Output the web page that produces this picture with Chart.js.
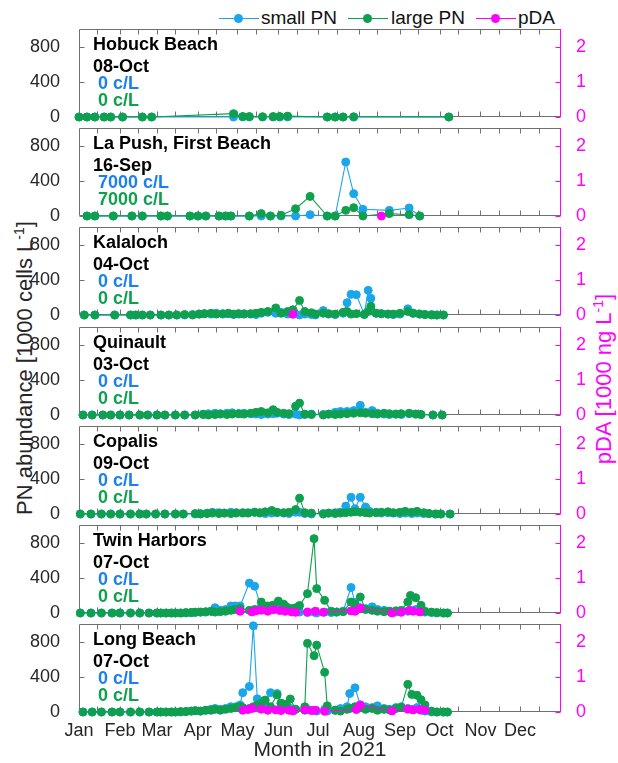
<!DOCTYPE html>
<html>
<head>
<meta charset="utf-8">
<title>PN abundance and pDA, 2021</title>
<script src="https://cdn.jsdelivr.net/npm/chart.js@4.4.1/dist/chart.umd.min.js"></script>
<style>
  html, body { margin: 0; padding: 0; background: #fff; }
  #fig { position: relative; width: 618px; height: 763px; overflow: hidden; font-family: "Liberation Sans", Arial, sans-serif; color: #262626; }
  #fig canvas { position: absolute; left: 0; }
  .note { position: absolute; left: 93px; font-size: 18px; line-height: 18px; font-weight: bold; white-space: pre; }
  .ytitle { position: absolute; font-size: 22px; line-height: 22px; white-space: nowrap; transform: translate(-50%, -50%) rotate(-90deg); }
  .ytitle sup { font-size: 14px; }
  .key { position: absolute; top: 8px; font-size: 19px; line-height: 20px; color: #111; }
  .key-line { position: absolute; top: 18px; width: 40px; height: 0; border-top: 1.3px solid; }
  .key-dot { position: absolute; top: 14px; width: 9px; height: 9px; border-radius: 50%; }
</style>
</head>
<body>
<div id="fig">
  <div class="key-line" style="left:219px;border-color:#1ba6ec"></div>
  <div class="key-dot" style="left:234px;background:#1ba6ec"></div>
  <div class="key" style="left:261px">small PN</div>
  <div class="key-line" style="left:348px;border-color:#0fa04f"></div>
  <div class="key-dot" style="left:363px;background:#0fa04f"></div>
  <div class="key" style="left:391px">large PN</div>
  <div class="key-line" style="left:476px;border-color:#ff00ff"></div>
  <div class="key-dot" style="left:491px;background:#ff00ff"></div>
  <div class="key" style="left:518px">pDA</div>
  <div class="ytitle" style="left:22px;top:368px">PN abundance [1000 cells L<sup>-1</sup>]</div>
  <div class="ytitle" style="left:601px;top:379px;color:#ff00ff">pDA [1000 ng L<sup>-1</sup>]</div>
</div>
<script>
// axis labels
const monthLabels = ['Jan', 'Feb', 'Mar', 'Apr', 'May', 'Jun', 'Jul', 'Aug', 'Sep', 'Oct', 'Nov', 'Dec'];
const monthStarts = [0, 31, 59, 90, 120, 151, 181, 212, 243, 273, 304, 334];
const pnTicks = [0, 400, 800];
const pdaTicks = [0, 1, 2];

// panel text
const siteNames = ['Hobuck Beach', 'La Push, First Beach', 'Kalaloch', 'Quinault', 'Copalis', 'Twin Harbors', 'Long Beach'];
const lastDates = ['08-Oct', '16-Sep', '04-Oct', '03-Oct', '09-Oct', '07-Oct', '07-Oct'];
const smallCounts = ['0 c/L', '7000 c/L', '0 c/L', '0 c/L', '0 c/L', '0 c/L', '0 c/L'];
const largeCounts = ['0 c/L', '7000 c/L', '0 c/L', '0 c/L', '0 c/L', '0 c/L', '0 c/L'];

// sample days are days since 1 Jan 2021; PN in 1000 cells/L, pDA in 1000 ng/L
const hobuckDays = [0, 6, 12, 19, 24, 33, 48, 55, 117, 124, 129, 139, 147, 152, 158, 188, 194, 200, 208, 280];
const hobuckSmall = [0, 0, 0, 0, 0, 0, 0, 0, 0, 2, 0, 0, 0, 0, 0, 0, 0, 0, 0, 0];
const hobuckLarge = [0, 0, 0, 0, 0, 0, 0, 0, 38, 5, 5, 3, 5, 5, 10, 0, 0, 0, 2, 0];
const hobuckPdaDays = [];
const hobuckPda = [];

const laPushDays = [6, 12, 26, 40, 48, 62, 67, 84, 90, 96, 106, 111, 115, 129, 138, 145, 153, 164, 175, 188, 194, 202, 208, 215, 235, 250, 258];
const laPushSmall = [0, 0, 0, 0, 0, 0, 0, 0, 0, 0, 0, 0, 0, 0, 0, 0, 0, 0, 15, 0, 0, 614, 254, 76, 64, 91, 0];
const laPushLarge = [0, 0, 0, 0, 0, 0, 0, 0, 0, 0, 0, 0, 0, 0, 27, 0, 8, 83, 223, 0, 0, 64, 95, 0, 27, 15, 0];
const laPushPdaDays = [229];
const laPushPda = [0];

const kalalochDays = [4, 12, 27, 39, 43, 48, 54, 62, 68, 74, 80, 86, 91, 95, 100, 104, 109, 113, 117, 121, 125, 130, 134, 138, 143, 149, 153, 158, 162, 167, 171, 176, 179, 185, 189, 194, 200, 203, 206, 210, 216, 219, 221, 225, 229, 234, 238, 243, 249, 253, 258, 262, 267, 271, 276];
const kalalochSmall = [0, 0, 0, 0, 0, 0, 0, 0, 0, 0, 0, 5, 10, 15, 10, 20, 10, 15, 5, 10, 15, 10, 5, 20, 30, 20, 30, 10, 15, 0, 10, 5, 0, 50, 10, 5, 20, 140, 235, 230, 10, 280, 190, 20, 15, 10, 5, 10, 70, 20, 10, 5, 5, 0, 0];
const kalalochLarge = [0, 0, 0, 0, 0, 0, 0, 0, 0, 0, 5, 0, 10, 15, 20, 10, 15, 20, 10, 15, 10, 15, 20, 30, 40, 80, 20, 40, 60, 165, 40, 25, 10, 20, 15, 10, 30, 40, 10, 15, 5, 40, 100, 20, 15, 10, 10, 20, 40, 20, 10, 5, 0, 0, 0];
const kalalochPdaDays = [162];
const kalalochPda = [0.02];

const quinaultDays = [3, 10, 18, 24, 31, 38, 46, 52, 59, 65, 73, 80, 88, 94, 98, 103, 107, 112, 116, 121, 125, 130, 134, 138, 143, 147, 150, 155, 159, 164, 167, 171, 176, 185, 189, 194, 198, 203, 208, 213, 217, 222, 226, 231, 235, 240, 244, 250, 255, 259, 268, 275];
const quinaultSmall = [0, 0, 0, 0, 0, 0, 0, 0, 0, 0, 0, 0, 0, 10, 15, 20, 15, 20, 25, 15, 20, 15, 10, 5, 10, 15, 20, 10, 5, 10, 0, 5, 10, 5, 10, 30, 40, 40, 50, 110, 30, 50, 20, 10, 5, 10, 5, 15, 10, 5, 0, 0];
const quinaultLarge = [0, 0, 0, 0, 0, 0, 0, 0, 0, 0, 0, 0, 0, 5, 0, 5, 10, 5, 10, 15, 10, 20, 30, 40, 25, 60, 30, 20, 15, 100, 135, 10, 5, 0, 10, 5, 10, 15, 20, 25, 20, 15, 10, 20, 15, 10, 15, 20, 10, 5, 0, 0];
const quinaultPdaDays = [];
const quinaultPda = [];

const copalisDays = [1, 9, 17, 24, 31, 39, 46, 51, 58, 65, 73, 79, 88, 92, 97, 101, 106, 110, 115, 119, 124, 128, 133, 137, 141, 146, 150, 155, 159, 164, 167, 171, 176, 185, 189, 194, 198, 202, 206, 209, 213, 217, 220, 225, 229, 234, 238, 243, 247, 252, 256, 261, 265, 270, 274, 281];
const copalisSmall = [0, 0, 0, 0, 0, 0, 0, 0, 0, 0, 0, 0, 0, 5, 10, 20, 15, 10, 20, 15, 10, 15, 20, 10, 5, 10, 15, 10, 5, 20, 20, 5, 0, 5, 10, 15, 20, 90, 190, 60, 190, 80, 30, 20, 10, 15, 10, 5, 10, 5, 10, 5, 5, 0, 0, 0];
const copalisLarge = [0, 0, 0, 0, 0, 0, 0, 0, 0, 0, 0, 0, 5, 0, 5, 10, 5, 10, 5, 10, 15, 10, 20, 15, 25, 40, 20, 15, 20, 50, 180, 15, 10, 0, 10, 5, 10, 15, 20, 25, 20, 15, 10, 15, 20, 25, 15, 20, 30, 20, 30, 15, 5, 0, 0, 0];
const copalisPdaDays = [];
const copalisPda = [];

const twinDays = [1, 9, 17, 25, 31, 39, 46, 53, 59, 62, 66, 70, 73, 77, 81, 85, 88, 92, 96, 100, 103, 107, 111, 115, 118, 122, 129, 133, 138, 143, 147, 151, 155, 157, 161, 164, 167, 173, 178, 180, 186, 191, 195, 200, 206, 209, 213, 217, 222, 226, 231, 235, 240, 244, 249, 251, 255, 259, 262, 267, 271, 276, 279];
const twinSmall = [0, 0, 0, 0, 0, 0, 0, 0, 0, 0, 0, 0, 0, 0, 0, 5, 5, 10, 10, 20, 60, 30, 40, 80, 80, 80, 340, 305, 60, 40, 50, 100, 60, 40, 30, 20, 10, 5, 10, 0, 10, 5, 10, 20, 290, 120, 60, 50, 70, 40, 30, 20, 10, 15, 20, 30, 40, 20, 10, 5, 0, 0, 0];
const twinLarge = [0, 0, 0, 0, 0, 0, 0, 0, 0, 0, 0, 0, 0, 0, 5, 5, 10, 10, 15, 20, 10, 15, 20, 30, 40, 50, 30, 40, 125, 80, 90, 136, 100, 70, 50, 60, 85, 220, 845, 277, 144, 20, 10, 15, 125, 98, 182, 40, 30, 20, 15, 20, 25, 30, 125, 200, 174, 87, 20, 10, 5, 0, 0];
const twinPdaDays = [122, 131, 134, 138, 143, 147, 152, 156, 161, 164, 173, 179, 185, 206, 209, 213, 237, 244, 250, 253, 258];
const twinPda = [0.05, 0.03, 0.06, 0.08, 0.05, 0.09, 0.07, 0.05, 0.03, 0.02, 0.03, 0.05, 0.02, 0.06, 0.05, 0.14, 0.0, 0.02, 0.07, 0.05, 0.03];

const longDays = [3, 10, 17, 25, 31, 39, 46, 53, 59, 62, 66, 70, 73, 77, 81, 85, 88, 92, 96, 100, 103, 107, 111, 115, 119, 122, 124, 129, 132, 135, 138, 141, 145, 150, 153, 157, 160, 164, 171, 173, 178, 180, 186, 188, 194, 198, 203, 205, 209, 213, 217, 222, 226, 231, 235, 240, 244, 249, 252, 256, 259, 262, 267, 271, 276, 279];
const longSmall = [0, 0, 0, 0, 0, 0, 0, 0, 0, 0, 0, 0, 0, 0, 5, 10, 15, 10, 20, 30, 40, 30, 40, 60, 60, 80, 220, 290, 980, 150, 120, 80, 220, 210, 100, 60, 40, 30, 20, 30, 20, 10, 30, 10, 20, 40, 60, 210, 275, 80, 60, 50, 70, 40, 30, 50, 60, 40, 30, 50, 20, 10, 0, 0, 0, 0];
const longLarge = [0, 0, 0, 0, 0, 0, 0, 0, 0, 0, 0, 0, 0, 5, 5, 10, 15, 10, 20, 20, 30, 20, 30, 40, 50, 60, 50, 40, 60, 80, 100, 136, 60, 193, 100, 90, 148, 30, 60, 780, 640, 760, 451, 70, 20, 10, 30, 40, 60, 50, 30, 40, 20, 30, 25, 40, 50, 314, 200, 190, 140, 80, 10, 0, 0, 0];
const longPdaDays = [124, 128, 131, 138, 143, 149, 153, 159, 162, 171, 176, 179, 186, 210, 213, 237, 249, 253, 258, 262];
const longPda = [0.05, 0.07, 0.1, 0.08, 0.05, 0.06, 0.04, 0.05, 0.03, 0.06, 0.04, 0.05, 0.02, 0.07, 0.2, 0.03, 0.08, 0.06, 0.07, 0.05];

const sites = [
    { days: hobuckDays, small: hobuckSmall, large: hobuckLarge, pdaDays: hobuckPdaDays, pda: hobuckPda },
    { days: laPushDays, small: laPushSmall, large: laPushLarge, pdaDays: laPushPdaDays, pda: laPushPda },
    { days: kalalochDays, small: kalalochSmall, large: kalalochLarge, pdaDays: kalalochPdaDays, pda: kalalochPda },
    { days: quinaultDays, small: quinaultSmall, large: quinaultLarge, pdaDays: quinaultPdaDays, pda: quinaultPda },
    { days: copalisDays, small: copalisSmall, large: copalisLarge, pdaDays: copalisPdaDays, pda: copalisPda },
    { days: twinDays, small: twinSmall, large: twinLarge, pdaDays: twinPdaDays, pda: twinPda },
    { days: longDays, small: longSmall, large: longLarge, pdaDays: longPdaDays, pda: longPda }
];

const smallColor = '#1ba6ec';
const smallText = '#1a80f0';
const largeColor = '#0fa04f';
const pdaColor = '#ff00ff';
const frameColor = '#707070';
const textColor = '#262626';

const PANEL_TOP = 29;
const PANEL_STEP = 99.17;
const PANEL_H = 88;
const PAD = 14;
const XAXIS_H = 51;

// inward tick marks every half month on top and bottom edges
const xTickDays = monthStarts.flatMap(d => [d, d + 14]).filter(d => d > 0);

const framePlugin = {
    id: 'frame',
    beforeDatasetsDraw(chart) {
        const { ctx, chartArea: a } = chart;
        const xs = chart.scales.x, ys = chart.scales.y, ys1 = chart.scales.y1;
        const L = Math.round(a.left) + 0.5;
        const R = Math.round(a.right) - 0.5;
        const T = Math.round(a.top) + 0.5;
        const B = Math.round(a.bottom) - 0.5;
        ctx.save();
        ctx.lineWidth = 1;
        ctx.strokeStyle = frameColor;
        ctx.beginPath();
        ctx.moveTo(R, T);
        ctx.lineTo(L, T);
        ctx.lineTo(L, B);
        ctx.lineTo(R, B);
        xTickDays.forEach(d => {
            const px = Math.round(xs.getPixelForValue(d)) + 0.5;
            ctx.moveTo(px, B);
            ctx.lineTo(px, B - 5);
            ctx.moveTo(px, T);
            ctx.lineTo(px, T + 5);
        });
        pnTicks.forEach(v => {
            const py = Math.round(ys.getPixelForValue(v)) + 0.5;
            ctx.moveTo(L, py);
            ctx.lineTo(L + 5, py);
        });
        ctx.stroke();
        ctx.strokeStyle = pdaColor;
        ctx.beginPath();
        ctx.moveTo(R, T - 0.5);
        ctx.lineTo(R, B + 0.5);
        pdaTicks.forEach(v => {
            const py = Math.round(ys1.getPixelForValue(v)) + 0.5;
            ctx.moveTo(R, py);
            ctx.lineTo(R - 5, py);
        });
        ctx.stroke();
        ctx.restore();
    }
};

function toPoints(xs, ys) {
    return xs.map((d, i) => ({ x: d, y: ys[i] }));
}

function series(label, data, color, axis, order) {
    return {
        label: label,
        data: data,
        yAxisID: axis,
        borderColor: color,
        backgroundColor: color,
        borderWidth: 1.1,
        pointRadius: 4,
        pointHoverRadius: 4,
        pointBorderWidth: 1,
        tension: 0,
        clip: false,
        order: order
    };
}

const fig = document.getElementById('fig');

function addNote(text, centerY, color) {
    const div = document.createElement('div');
    div.className = 'note';
    div.style.top = (centerY - 9) + 'px';
    div.style.color = color;
    div.textContent = text;
    fig.appendChild(div);
}

sites.forEach((site, i) => {
    const top = Math.round(PANEL_TOP + i * PANEL_STEP);
    const last = i === sites.length - 1;

    const canvas = document.createElement('canvas');
    canvas.width = 618;
    canvas.height = PAD + PANEL_H + (last ? XAXIS_H : PAD);
    canvas.style.top = (top - PAD) + 'px';
    fig.appendChild(canvas);

    new Chart(canvas, {
        type: 'line',
        data: {
            datasets: [
                series('small PN', toPoints(site.days, site.small), smallColor, 'y', 3),
                series('large PN', toPoints(site.days, site.large), largeColor, 'y', 2),
                series('pDA', toPoints(site.pdaDays, site.pda), pdaColor, 'y1', 1)
            ]
        },
        options: {
            responsive: false,
            animation: false,
            events: [],
            layout: { padding: { top: PAD, bottom: last ? 0 : PAD, left: 0, right: 0 } },
            plugins: {
                legend: { display: false },
                tooltip: { enabled: false }
            },
            scales: {
                x: {
                    type: 'linear',
                    min: 0,
                    max: 365,
                    display: last,
                    grid: { display: false },
                    border: { display: false },
                    afterBuildTicks: s => { s.ticks = monthStarts.map(v => ({ value: v })); },
                    afterFit: s => {
                        s.height = last ? XAXIS_H : 0;
                        s.paddingLeft = 0;
                        s.paddingRight = 0;
                    },
                    ticks: {
                        autoSkip: false,
                        maxRotation: 0,
                        padding: 0,
                        color: textColor,
                        font: { family: 'Liberation Sans', size: 18 },
                        callback: (value, index) => monthLabels[index]
                    },
                    title: {
                        display: true,
                        text: 'Month in 2021',
                        color: textColor,
                        padding: { top: 0, bottom: 0 },
                        font: { family: 'Liberation Sans', size: 21 }
                    }
                },
                y: {
                    position: 'left',
                    min: 0,
                    max: 1000,
                    grid: { display: false },
                    border: { display: false },
                    afterBuildTicks: s => { s.ticks = pnTicks.map(v => ({ value: v })); },
                    afterFit: s => { s.width = 79; s.paddingTop = 0; s.paddingBottom = 0; },
                    ticks: {
                        padding: 11,
                        color: textColor,
                        font: { family: 'Liberation Sans', size: 18 }
                    }
                },
                y1: {
                    position: 'right',
                    min: 0,
                    max: 2.5,
                    grid: { display: false },
                    border: { display: false },
                    afterBuildTicks: s => { s.ticks = pdaTicks.map(v => ({ value: v })); },
                    afterFit: s => { s.width = 57; s.paddingTop = 0; s.paddingBottom = 0; },
                    ticks: {
                        padding: 7,
                        color: pdaColor,
                        font: { family: 'Liberation Sans', size: 18 }
                    }
                }
            }
        },
        plugins: [framePlugin]
    });

    addNote(siteNames[i], top + 14.5, '#000');
    addNote(lastDates[i], top + 36.5, '#000');
    addNote(' ' + smallCounts[i], top + 53.5, smallText);
    addNote(' ' + largeCounts[i], top + 70.5, largeColor);
});
</script>
</body>
</html>
